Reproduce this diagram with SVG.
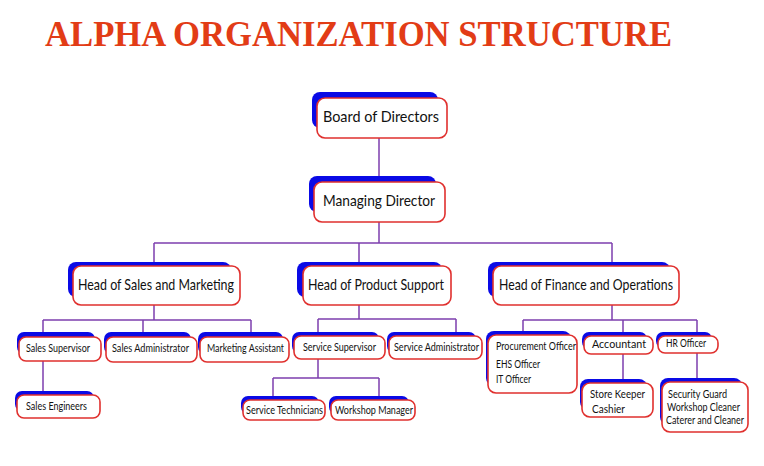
<svg xmlns="http://www.w3.org/2000/svg" width="764" height="466" viewBox="0 0 764 466">
<style>
.sh{fill:#0a0ae6}
.bx{fill:#ffffff;stroke:#e0302e;stroke-width:1.6}
.c{fill:none;stroke:#7d3fae;stroke-width:1.5}
.t{font-family:Lato,"Open Sans",sans-serif;fill:#111111}
.L{font-size:15px}
.S{font-size:10.5px}
.M{font-size:12px}
.title{font-family:"Liberation Serif","Times New Roman",serif;font-weight:bold;font-size:35px;fill:#e23c16}
</style>
<rect width="764" height="466" fill="#ffffff"/>
<text class="title" x="45" y="46" textLength="627" lengthAdjust="spacingAndGlyphs">ALPHA ORGANIZATION STRUCTURE</text>
<g id="connectors">
<path class="c" d="M379 138V182M379 222V243M154 243H612M154 243V266M359 243V266M612 243V266"/>
<path class="c" d="M154 305V320M43 320H251M43 320V337M143 320V337M251 320V337M43 361V395"/>
<path class="c" d="M359 305V319M318 319H456M318 319V336M456 319V336M318 359V378M273 378H379M273 378V400M379 378V400"/>
<path class="c" d="M612 305V320M523 320H697M523 320V335M623 320V336M697 320V336M623 354V383M697 353V382"/>
</g>
<g id="board">
<rect class="sh" x="312" y="92" width="126" height="36" rx="8"/>
<rect class="bx" x="317" y="98" width="130" height="40" rx="8"/>
<text class="t L" x="323" y="122" textLength="116" lengthAdjust="spacingAndGlyphs">Board of Directors</text>
</g>
<g id="md">
<rect class="sh" x="309" y="176" width="127" height="36" rx="8"/>
<rect class="bx" x="314" y="182" width="131" height="40" rx="8"/>
<text class="t L" x="323" y="206" textLength="112" lengthAdjust="spacingAndGlyphs">Managing Director</text>
</g>
<g id="hsm">
<rect class="sh" x="68" y="262" width="163" height="35" rx="8"/>
<rect class="bx" x="73" y="266" width="167" height="39" rx="8"/>
<text class="t L" x="78" y="290" textLength="156" lengthAdjust="spacingAndGlyphs">Head of Sales and Marketing</text>
</g>
<g id="hps">
<rect class="sh" x="297" y="262" width="145" height="35" rx="8"/>
<rect class="bx" x="303" y="266" width="148" height="39" rx="8"/>
<text class="t L" x="308" y="290" textLength="136" lengthAdjust="spacingAndGlyphs">Head of Product Support</text>
</g>
<g id="hfo">
<rect class="sh" x="488" y="262" width="182" height="35" rx="8"/>
<rect class="bx" x="493" y="266" width="186" height="39" rx="8"/>
<text class="t L" x="499" y="290" textLength="174" lengthAdjust="spacingAndGlyphs">Head of Finance and Operations</text>
</g>
<g id="sales-supervisor">
<rect class="sh" x="17" y="332" width="78" height="22" rx="7"/>
<rect class="bx" x="19" y="337" width="82" height="24" rx="7"/>
<text class="t S" x="26" y="352" textLength="64" lengthAdjust="spacingAndGlyphs">Sales Supervisor</text>
</g>
<g id="sales-admin">
<rect class="sh" x="104" y="332" width="87" height="22" rx="7"/>
<rect class="bx" x="106" y="337" width="91" height="25" rx="7"/>
<text class="t S" x="112" y="352" textLength="77" lengthAdjust="spacingAndGlyphs">Sales Administrator</text>
</g>
<g id="marketing-assistant">
<rect class="sh" x="198" y="332" width="85" height="22" rx="7"/>
<rect class="bx" x="200" y="337" width="89" height="25" rx="7"/>
<text class="t S" x="207" y="352" textLength="77" lengthAdjust="spacingAndGlyphs">Marketing Assistant</text>
</g>
<g id="sales-engineers">
<rect class="sh" x="15" y="391" width="79" height="20" rx="7"/>
<rect class="bx" x="17" y="395" width="83" height="23" rx="7"/>
<text class="t S" x="26" y="410" textLength="61" lengthAdjust="spacingAndGlyphs">Sales Engineers</text>
</g>
<g id="service-supervisor">
<rect class="sh" x="292" y="332" width="87" height="21" rx="7"/>
<rect class="bx" x="294" y="336" width="91" height="23" rx="7"/>
<text class="t S" x="303" y="351" textLength="73" lengthAdjust="spacingAndGlyphs">Service Supervisor</text>
</g>
<g id="service-admin">
<rect class="sh" x="387" y="332" width="89" height="21" rx="7"/>
<rect class="bx" x="389" y="336" width="93" height="23" rx="7"/>
<text class="t S" x="394" y="351" textLength="85" lengthAdjust="spacingAndGlyphs">Service Administrator</text>
</g>
<g id="service-technicians">
<rect class="sh" x="241" y="396" width="78" height="18" rx="7"/>
<rect class="bx" x="243" y="400" width="82" height="20" rx="7"/>
<text class="t S" x="246" y="414" textLength="77" lengthAdjust="spacingAndGlyphs">Service Technicians</text>
</g>
<g id="workshop-manager">
<rect class="sh" x="329" y="396" width="80" height="18" rx="7"/>
<rect class="bx" x="331" y="400" width="84" height="20" rx="7"/>
<text class="t S" x="335" y="414" textLength="78" lengthAdjust="spacingAndGlyphs">Workshop Manager</text>
</g>
<g id="procurement">
<rect class="sh" x="486" y="331" width="85" height="55" rx="8"/>
<rect class="bx" x="488" y="335" width="89" height="58" rx="8"/>
<text class="t S" x="496" y="350" textLength="80" lengthAdjust="spacingAndGlyphs">Procurement Officer</text>
<text class="t S" x="496" y="368" textLength="44" lengthAdjust="spacingAndGlyphs">EHS Officer</text>
<text class="t S" x="496" y="383" textLength="35" lengthAdjust="spacingAndGlyphs">IT Officer</text>
</g>
<g id="accountant">
<rect class="sh" x="582" y="332" width="65" height="17" rx="7"/>
<rect class="bx" x="584" y="336" width="69" height="18" rx="7"/>
<text class="t M" x="592" y="348" textLength="54" lengthAdjust="spacingAndGlyphs">Accountant</text>
</g>
<g id="hr-officer">
<rect class="sh" x="656" y="332" width="56" height="16" rx="7"/>
<rect class="bx" x="658" y="336" width="60" height="17" rx="7"/>
<text class="t S" x="666" y="347" textLength="40" lengthAdjust="spacingAndGlyphs">HR Officer</text>
</g>
<g id="store-keeper">
<rect class="sh" x="580" y="379" width="67" height="31" rx="8"/>
<rect class="bx" x="582" y="383" width="71" height="34" rx="8"/>
<text class="t S" x="590" y="398" textLength="55" lengthAdjust="spacingAndGlyphs">Store Keeper</text>
<text class="t S" x="592" y="413" textLength="33" lengthAdjust="spacingAndGlyphs">Cashier</text>
</g>
<g id="security">
<rect class="sh" x="660" y="378" width="82" height="47" rx="8"/>
<rect class="bx" x="662" y="382" width="86" height="50" rx="8"/>
<text class="t S" x="668" y="398" textLength="59" lengthAdjust="spacingAndGlyphs">Security Guard</text>
<text class="t S" x="667" y="411" textLength="73" lengthAdjust="spacingAndGlyphs">Workshop Cleaner</text>
<text class="t S" x="666" y="424" textLength="78" lengthAdjust="spacingAndGlyphs">Caterer and Cleaner</text>
</g>
</svg>
